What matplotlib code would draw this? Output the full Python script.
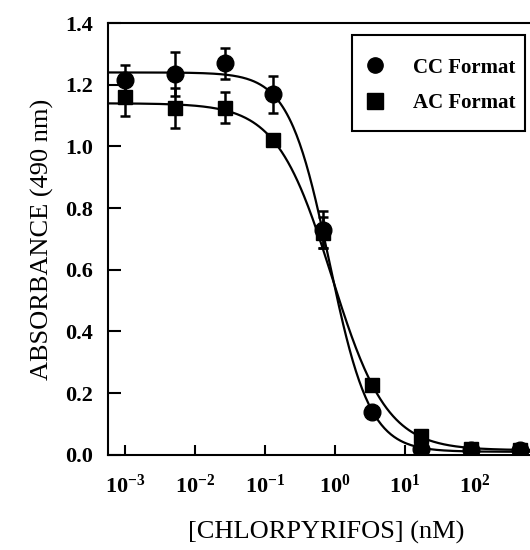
import numpy as np
import matplotlib
matplotlib.use("Agg")
import matplotlib.pyplot as plt
from matplotlib.patches import Rectangle

# concentrations (nM)
conc = [0.001, 0.0051, 0.027, 0.13, 0.68, 3.4, 17, 87, 440]

cc_abs = [1.215, 1.235, 1.27, 1.17, 0.73, 0.14, 0.02, 0.015, 0.015]
cc_err = [0.05, 0.07, 0.05, 0.06, 0.06, 0.0, 0.0, 0.0, 0.0]
ac_abs = [1.16, 1.125, 1.125, 1.02, 0.72, 0.225, 0.06, 0.02, 0.015]
ac_err = [0.06, 0.065, 0.05, 0.02, 0.05, 0.0, 0.0, 0.0, 0.0]

# 4-parameter logistic fits: top, bottom, IC50, slope
cc_fit = [1.24, 0.01, 0.83, 1.5]
ac_fit = [1.14, 0.015, 0.9, 1.1]

xtick_vals = [1e-3, 1e-2, 1e-1, 1e0, 1e1, 1e2]
xtick_labels = [r'$\mathbf{10^{-3}}$', r'$\mathbf{10^{-2}}$', r'$\mathbf{10^{-1}}$',
                r'$\mathbf{10^{0}}$', r'$\mathbf{10^{1}}$', r'$\mathbf{10^{2}}$']
ytick_vals = [0.0, 0.2, 0.4, 0.6, 0.8, 1.0, 1.2, 1.4]

plt.rcParams['font.family'] = ['Liberation Serif', 'DejaVu Serif']
plt.rcParams['mathtext.fontset'] = 'custom'
plt.rcParams['mathtext.rm'] = 'Liberation Serif'
plt.rcParams['mathtext.bf'] = 'Liberation Serif:bold'

fig = plt.figure(figsize=(5.3, 5.5), dpi=100)
ax = fig.add_axes([0.204, 0.173, 0.796, 0.785])


def logistic(x, p):
    top, bottom, c, h = p
    return bottom + (top - bottom) / (1 + (x / c) ** h)


xs = np.logspace(-3.25, 2.8, 400)
ax.plot(xs, logistic(xs, cc_fit), color='black', lw=1.6, zorder=2)
ax.plot(xs, logistic(xs, ac_fit), color='black', lw=1.6, zorder=2)

ax.errorbar(conc, cc_abs, yerr=cc_err, fmt='none', ecolor='black',
            elinewidth=1.8, capsize=3.8, capthick=1.8, zorder=3)
ax.errorbar(conc, ac_abs, yerr=ac_err, fmt='none', ecolor='black',
            elinewidth=1.8, capsize=3.8, capthick=1.8, zorder=3)
ax.plot(conc, cc_abs, 'o', ms=12, color='black', label='CC Format', zorder=4)
ax.plot(conc, ac_abs, 's', ms=10.5, color='black', label='AC Format', zorder=4)

ax.set_xscale('log')
ax.set_xlim(10 ** -3.243, 10 ** 2.786)
ax.set_ylim(0, 1.4)
ax.set_xticks(xtick_vals)
ax.set_xticklabels(xtick_labels)
ax.xaxis.set_minor_locator(matplotlib.ticker.NullLocator())
ax.set_yticks(ytick_vals)
ax.set_yticklabels(['%.1f' % v for v in ytick_vals])

ax.tick_params(axis='x', direction='in', length=7, width=1.5, labelsize=16, pad=14)
ax.tick_params(axis='y', direction='in', length=9, width=1.5, labelsize=16, pad=11)
for lab in ax.get_yticklabels():
    lab.set_fontweight('bold')

for s in ['left', 'bottom', 'top']:
    ax.spines[s].set_linewidth(1.5)
ax.spines['right'].set_visible(False)

ax.set_ylabel('ABSORBANCE (490 nm)', fontsize=19, labelpad=8)
ax.set_xlabel('[CHLORPYRIFOS] (nM)', fontsize=19, labelpad=17)
ax.xaxis.label.set_x(0.517)

# legend frame drawn separately so its padding can match
fig.patches.append(Rectangle((0.664, 0.762), 0.326, 0.1745, transform=fig.transFigure,
                             fill=False, edgecolor='black', lw=1.5, zorder=5))
leg = fig.legend(loc='upper left', bbox_to_anchor=(0.692, 0.895), frameon=False,
                 prop={'weight': 'bold', 'size': 15}, borderpad=0, borderaxespad=0,
                 handletextpad=1.4, labelspacing=0.75, handlelength=0.8)
for h in leg.legend_handles:
    h.set_markersize(11)

fig.savefig('out.png', dpi=100)
